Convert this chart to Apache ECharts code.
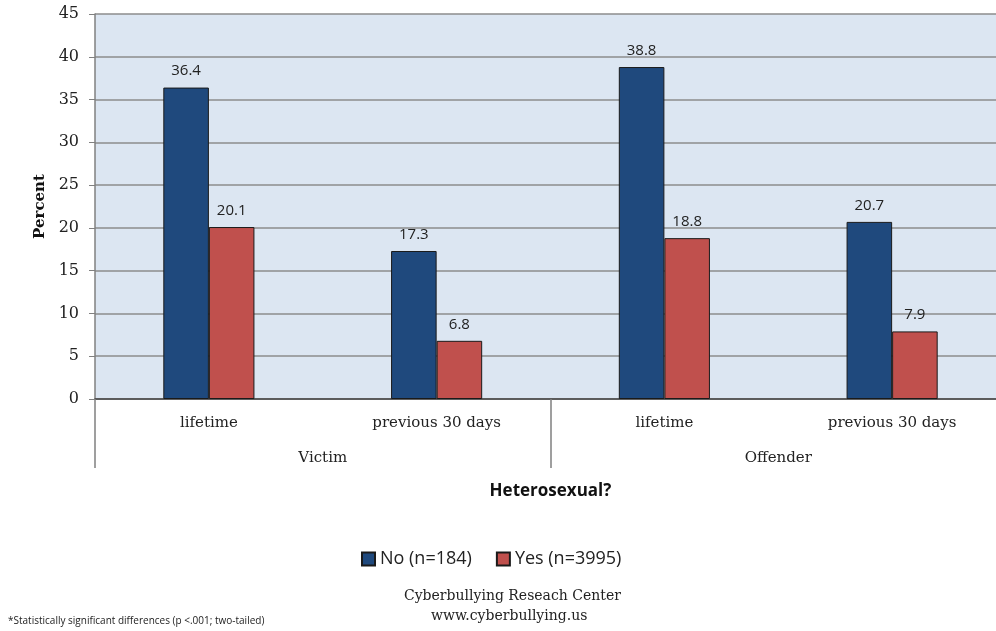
<!DOCTYPE html>
<html>
<head>
<meta charset="utf-8">
<script src="https://cdn.jsdelivr.net/npm/echarts@6/dist/echarts.min.js"></script>
<style>
  html, body { margin: 0; padding: 0; background: #fff; }
  #myChart { width: 996px; height: 631px; }
</style>
</head>
<body>
<div id="myChart"></div>
<script>
var categories = ['lifetime', 'previous 30 days', 'lifetime', 'previous 30 days'];
var groups = ['Victim', 'Offender'];
var seriesNames = ['No (n=184)', 'Yes (n=3995)'];
var noValues = [36.4, 17.3, 38.8, 20.7];
var yesValues = [20.1, 6.8, 18.8, 7.9];

var serif = '"DejaVu Serif", serif';
var sans = '"Open Sans", "DejaVu Sans", sans-serif';

function barSeries(name, data, color) {
    return {
        name: name,
        type: 'bar',
        data: data,
        barGap: '0%',
        barCategoryGap: '60%',
        itemStyle: { color: color, borderColor: '#1a1a1a', borderWidth: 1 },
        label: {
            show: true, position: 'top', distance: 9,
            color: '#222', fontFamily: sans, fontSize: 15
        }
    };
}

var myChart = echarts.init(document.getElementById('myChart'));
myChart.setOption({
    backgroundColor: '#fff',
    animation: false,
    grid: {
        left: 95, top: 14, width: 911, bottom: 232, outerBoundsMode: 'none', containLabel: false,
        show: true, backgroundColor: '#dce6f2', borderWidth: 0
    },
    legend: {
        bottom: 58, left: 356, itemWidth: 13, itemHeight: 13, itemGap: 24, icon: 'rect',
        textStyle: { fontFamily: sans, fontSize: 18, color: '#222' },
        data: seriesNames
    },
    xAxis: [{
        type: 'category',
        data: categories,
        axisLine: { lineStyle: { color: '#444', width: 1.5 } },
        axisTick: { show: false },
        axisLabel: { margin: 17, fontFamily: serif, fontSize: 15, color: '#222' },
        name: 'Heterosexual?',
        nameLocation: 'middle',
        nameGap: 84,
        nameTextStyle: { fontFamily: sans, fontSize: 17, fontWeight: 'bold', color: '#111' }
    }, {
        type: 'category',
        data: groups,
        position: 'bottom',
        axisLine: { show: false },
        axisTick: { show: true, length: 69, lineStyle: { color: '#808080', width: 1.5 } },
        axisLabel: { margin: 52, fontFamily: serif, fontSize: 15, color: '#222' }
    }],
    yAxis: {
        type: 'value',
        min: 0, max: 45, interval: 5,
        name: 'Percent',
        nameLocation: 'middle',
        nameGap: 45,
        nameTextStyle: { fontFamily: serif, fontSize: 15, fontWeight: 'bold', color: '#111' },
        axisLine: { show: true, lineStyle: { color: '#808080', width: 1.5 } },
        axisTick: { show: true, length: 6, lineStyle: { color: '#808080' } },
        axisLabel: { margin: 16, fontFamily: serif, fontSize: 16, color: '#222' },
        splitLine: { lineStyle: { color: '#8c8c8c', width: 1.5 } }
    },
    series: [
        barSeries(seriesNames[0], noValues, '#1f497d'),
        barSeries(seriesNames[1], yesValues, '#c0504d')
    ],
    graphic: [
        { type: 'text', left: 404, top: 589, style: { text: 'Cyberbullying Reseach Center', font: '14px ' + serif, fill: '#222' } },
        { type: 'text', left: 431, top: 609, style: { text: 'www.cyberbullying.us', font: '14px ' + serif, fill: '#222' } },
        { type: 'text', left: 8, top: 616, style: { text: '*Statistically significant differences (p <.001; two-tailed)', font: '10px ' + sans, fill: '#222' } }
    ]
});
</script>
</body>
</html>
